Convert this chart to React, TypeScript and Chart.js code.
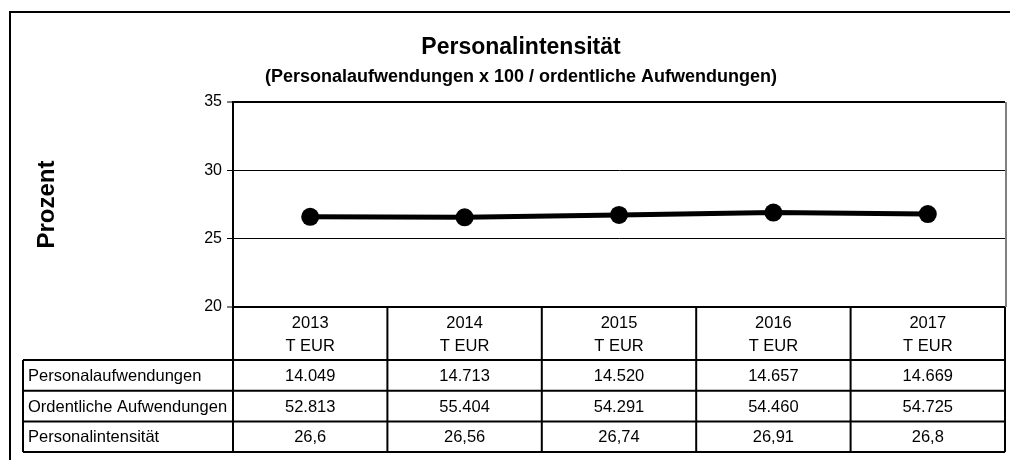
import React, { useEffect, useRef } from 'react';
import { Chart, registerables } from 'chart.js';

Chart.register(...registerables);

const years = ['2013', '2014', '2015', '2016', '2017'];
const unitLabel = 'T EUR';
const rowLabels = ['Personalaufwendungen', 'Ordentliche Aufwendungen', 'Personalintensität'];
const personalaufwendungen = [14049, 14713, 14520, 14657, 14669];
const ordentlicheAufwendungen = [52813, 55404, 54291, 54460, 54725];
const personalintensitaet = [26.6, 26.56, 26.74, 26.91, 26.8];
const yMin = 20;
const yMax = 35;
const yStep = 5;
const titleText = 'Personalintensität';
const subtitleText = '(Personalaufwendungen x 100 / ordentliche Aufwendungen)';
const yAxisTitle = 'Prozent';

const FONT = '"Liberation Sans", Arial, Helvetica, sans-serif';

function fmtInt(v: number): string {
  const s = String(Math.round(v));
  return s.replace(/\B(?=(\d{3})+(?!\d))/g, '.');
}
function fmtDec(v: number): string {
  return String(v).replace('.', ',');
}

const tableRows: string[][] = [
  personalaufwendungen.map(fmtInt),
  ordentlicheAufwendungen.map(fmtInt),
  personalintensitaet.map(fmtDec),
];

const frameTablePlugin = {
  id: 'frameTable',
  afterDraw(chart: any) {
    const { ctx, chartArea, scales } = chart;
    const xs = scales.x;
    const colW = xs.getPixelForValue(1) - xs.getPixelForValue(0);
    const L = chartArea.left;
    const R = chartArea.right;
    const headTop = chartArea.bottom;
    const headBottom = headTop + 53;
    const rowH = 30.7;
    const labelLeft = 23;
    const tableBottom = headBottom + rowH * tableRows.length;

    ctx.save();
    // titles
    ctx.fillStyle = '#000';
    ctx.textAlign = 'center';
    ctx.textBaseline = 'alphabetic';
    ctx.font = `bold 23px ${FONT}`;
    ctx.fillText(titleText, 521, 54);
    ctx.font = `bold 18px ${FONT}`;
    ctx.fillText(subtitleText, 521, 81.5);

    // right plot border (gray)
    ctx.strokeStyle = '#808080';
    ctx.lineWidth = 2;
    ctx.beginPath();
    ctx.moveTo(R + 1, chartArea.top);
    ctx.lineTo(R + 1, chartArea.bottom);
    ctx.stroke();

    // outer frame
    ctx.strokeStyle = '#000';
    ctx.lineWidth = 2;
    ctx.beginPath();
    ctx.moveTo(10, 460);
    ctx.lineTo(10, 12);
    ctx.lineTo(1010, 12);
    ctx.stroke();

    // table lines
    ctx.lineWidth = 2;
    ctx.beginPath();
    ctx.moveTo(L, headTop);
    ctx.lineTo(R, headTop);
    for (let r = 0; r <= tableRows.length; r++) {
      const y = headBottom + r * rowH;
      ctx.moveTo(labelLeft, y);
      ctx.lineTo(R, y);
    }
    ctx.moveTo(labelLeft, headBottom);
    ctx.lineTo(labelLeft, tableBottom);
    for (let i = 0; i <= years.length; i++) {
      const x = L + i * colW;
      ctx.moveTo(x, headTop);
      ctx.lineTo(x, tableBottom);
    }
    ctx.stroke();

    // header text
    ctx.font = `16.5px ${FONT}`;
    ctx.textAlign = 'center';
    ctx.textBaseline = 'alphabetic';
    years.forEach((yr, i) => {
      const cx = xs.getPixelForValue(i);
      ctx.fillText(yr, cx, headTop + 21);
      ctx.fillText(unitLabel, cx, headTop + 44);
    });

    // rows
    ctx.textBaseline = 'middle';
    tableRows.forEach((row, r) => {
      const cy = headBottom + r * rowH + rowH / 2 + 1;
      ctx.textAlign = 'left';
      ctx.fillText(rowLabels[r], labelLeft + 5, cy);
      ctx.textAlign = 'center';
      row.forEach((val, i) => {
        ctx.fillText(val, xs.getPixelForValue(i), cy);
      });
    });
    ctx.restore();
  },
};

export default function App() {
  const canvasRef = useRef<HTMLCanvasElement | null>(null);

  useEffect(() => {
    if (!canvasRef.current) return;
    const chart = new Chart(canvasRef.current, {
      type: 'line',
      data: {
        labels: years,
        datasets: [
          {
            label: titleText,
            data: personalintensitaet,
            borderColor: '#000',
            backgroundColor: '#000',
            borderWidth: 5,
            pointRadius: 9,
            pointBorderWidth: 0,
            pointBackgroundColor: '#000',
            tension: 0,
          },
        ],
      },
      options: {
        animation: false,
        responsive: false,
        devicePixelRatio: 1,
        layout: { autoPadding: false, padding: { top: 102, left: 0, right: 5, bottom: 153 } },
        plugins: {
          legend: { display: false },
          title: { display: false },
          tooltip: { enabled: false },
        },
        scales: {
          x: {
            type: 'category',
            display: false,
            offset: true,
          },
          y: {
            min: yMin,
            max: yMax,
            afterFit: (scale: any) => {
              scale.width = 233;
            },
            ticks: {
              stepSize: yStep,
              color: '#000',
              font: { family: FONT, size: 16 },
              padding: 5,
            },
            grid: {
              color: '#000',
              lineWidth: (c: any) =>
                c.tick && (c.tick.value === yMin || c.tick.value === yMax) ? 2 : 1,
              tickLength: 6,
              tickColor: '#000',
              tickWidth: 1,
            },
            border: { display: true, color: '#000', width: 2 },
            title: {
              display: true,
              text: yAxisTitle,
              color: '#000',
              font: { family: FONT, size: 24, weight: 'bold' },
              padding: { top: 33, bottom: 0 },
            },
          },
        },
      },
      plugins: [frameTablePlugin],
    });
    return () => chart.destroy();
  }, []);

  return (
    <div style={{ position: 'absolute', left: 0, top: 0, width: 1010, height: 460, background: '#fff' }}>
      <canvas ref={canvasRef} width={1010} height={460} style={{ display: 'block' }} />
    </div>
  );
}
